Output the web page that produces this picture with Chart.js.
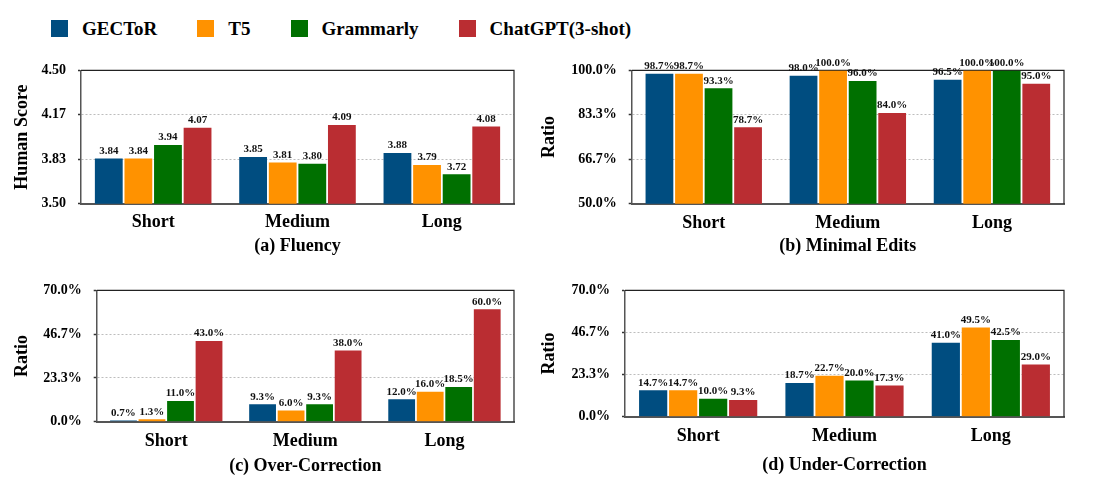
<!DOCTYPE html>
<html>
<head>
<meta charset="utf-8">
<script src="https://cdn.jsdelivr.net/npm/chart.js@4.4.1/dist/chart.umd.min.js"></script>
<style>
  body { margin: 0; background: #fff; width: 1101px; height: 487px; position: relative; overflow: hidden; font-family: "Liberation Serif", "Times New Roman", serif; }
  #legend { position: absolute; left: 51px; top: 19px; display: flex; align-items: center; font-weight: bold; font-size: 19px; line-height: 19px; color: #000; }
  #legend .item { display: flex; align-items: center; margin-right: 40px; }
  #legend .box { width: 17px; height: 17px; margin-right: 14px; }
  canvas { position: absolute; }
</style>
</head>
<body>
<div id="legend"></div>

<script>
// DATA
const categories = ['Short', 'Medium', 'Long'];
const systems = ['GECToR', 'T5', 'Grammarly', 'ChatGPT(3-shot)'];
const colors = ['#004d80', '#ff9200', '#007000', '#ba2d32'];

// rows follow `systems`, columns follow `categories`
const fluency = [
  [3.84, 3.85, 3.88],
  [3.84, 3.81, 3.79],
  [3.94, 3.80, 3.72],
  [4.07, 4.09, 4.08]
];
const minimalEdits = [
  [98.7, 98.0, 96.5],
  [98.7, 100.0, 100.0],
  [93.3, 96.0, 100.0],
  [78.7, 84.0, 95.0]
];
const overCorrection = [
  [0.7, 9.3, 12.0],
  [1.3, 6.0, 16.0],
  [11.0, 9.3, 18.5],
  [43.0, 38.0, 60.0]
];
const underCorrection = [
  [14.7, 18.7, 41.0],
  [14.7, 22.7, 49.5],
  [10.0, 20.0, 42.5],
  [9.3, 17.3, 29.0]
];

// tick values / labels
const fluencyTicks = [3.5, 3.8333, 4.1667, 4.5];
const fluencyTickLabels = ['3.50', '3.83', '4.17', '4.50'];
const editTicks = [50, 66.667, 83.333, 100];
const editTickLabels = ['50.0%', '66.7%', '83.3%', '100.0%'];
const correctionTicks = [0, 23.333, 46.667, 70];
const correctionTickLabels = ['0.0%', '23.3%', '46.7%', '70.0%'];

const FONT = '"Liberation Serif", "Times New Roman", serif';

// LEGEND
const legend = document.getElementById('legend');
systems.forEach((s, i) => {
  legend.innerHTML += `<div class="item"><div class="box" style="background:${colors[i]}"></div><span>${s}</span></div>`;
});

// PLUGINS
const valueLabels = {
  id: 'valueLabels',
  afterDatasetsDraw(chart, args, opts) {
    const ctx = chart.ctx;
    ctx.save();
    ctx.font = 'bold 11px ' + FONT;
    ctx.fillStyle = '#111';
    ctx.textAlign = 'center';
    ctx.textBaseline = 'bottom';
    chart.data.datasets.forEach((ds, i) => {
      chart.getDatasetMeta(i).data.forEach((bar, j) => {
        ctx.fillText(ds.data[j].toFixed(opts.digits) + opts.suffix, bar.x, bar.y - 2);
      });
    });
    ctx.restore();
  }
};

const frame = {
  id: 'frame',
  beforeDatasetsDraw(chart) {
    const { ctx, chartArea: a } = chart;
    ctx.save();
    ctx.strokeStyle = '#222';
    ctx.lineWidth = 1.2;
    ctx.beginPath();
    ctx.moveTo(a.left, a.top);
    ctx.lineTo(a.right, a.top);
    ctx.lineTo(a.right, a.bottom);
    ctx.stroke();
    ctx.restore();
  }
};

// PANELS
function makePanel(p) {
  const cv = document.createElement('canvas');
  cv.width = p.w; cv.height = p.h;
  cv.style.left = p.x + 'px'; cv.style.top = p.y + 'px';
  document.body.appendChild(cv);

  new Chart(cv, {
    type: 'bar',
    data: {
      labels: categories,
      datasets: systems.map((s, i) => ({
        label: s, data: p.values[i], backgroundColor: colors[i],
        categoryPercentage: 0.82, barPercentage: 0.94
      }))
    },
    options: {
      responsive: false, animation: false,
      layout: { padding: { top: p.padTop, right: p.padRight, left: 0, bottom: 0 } },
      plugins: {
        legend: { display: false }, tooltip: { enabled: false },
        valueLabels: { digits: p.digits, suffix: p.suffix }
      },
      scales: {
        x: {
          afterFit: s => { s.height = p.xHeight; },
          grid: { display: false, drawTicks: false },
          border: { color: '#555', width: 2 },
          ticks: { font: { family: FONT, size: 18, weight: 'bold' }, color: '#000', padding: p.catPad, maxRotation: 0 },
          title: { display: true, text: p.title, color: '#000', font: { family: FONT, size: 18, weight: 'bold' }, padding: { top: 0, bottom: p.titlePad } }
        },
        y: {
          min: p.ticks[0], max: p.ticks[p.ticks.length - 1],
          afterBuildTicks: s => { s.ticks = p.ticks.map(v => ({ value: v })); },
          afterFit: s => { s.width = p.yWidth; },
          ticks: { callback: (v, i) => p.tickLabels[i], font: { family: FONT, size: 14, weight: 'bold' }, color: '#000', padding: 12 },
          grid: {
            color: c => (c.index === 0 || c.index === p.ticks.length - 1) ? 'rgba(0,0,0,0)' : '#bdbdbd',
            lineWidth: 1, tickLength: 3, tickColor: '#333', tickWidth: 1.5
          },
          border: { color: '#555', width: 1.5, dash: [2, 2] },
          title: { display: true, text: p.yTitle, color: '#000', font: { family: FONT, size: 18, weight: 'bold' }, padding: { top: 12, bottom: 0 } }
        }
      }
    },
    plugins: [frame, valueLabels]
  });
}

makePanel({ x: 0, y: 50, w: 530, h: 212, padTop: 17.3, padRight: 16, yWidth: 81, xHeight: 58.3,
  catPad: 7.5, titlePad: 4.5, values: fluency, ticks: fluencyTicks, tickLabels: fluencyTickLabels,
  yTitle: 'Human Score', title: '(a) Fluency', digits: 2, suffix: '' });

makePanel({ x: 527, y: 50, w: 574, h: 212, padTop: 17.3, padRight: 37, yWidth: 104.7, xHeight: 58.3,
  catPad: 8.5, titlePad: 5.2, values: minimalEdits, ticks: editTicks, tickLabels: editTickLabels,
  yTitle: 'Ratio', title: '(b) Minimal Edits', digits: 1, suffix: '%' });

makePanel({ x: 0, y: 270, w: 530, h: 217, padTop: 15, padRight: 16, yWidth: 96.7, xHeight: 65.3,
  catPad: 8.5, titlePad: 10.2, values: overCorrection, ticks: correctionTicks, tickLabels: correctionTickLabels,
  yTitle: 'Ratio', title: '(c) Over-Correction', digits: 1, suffix: '%' });

makePanel({ x: 527, y: 270, w: 574, h: 217, padTop: 11, padRight: 37, yWidth: 98, xHeight: 70.3,
  catPad: 9, titlePad: 11.2, values: underCorrection, ticks: correctionTicks, tickLabels: correctionTickLabels,
  yTitle: 'Ratio', title: '(d) Under-Correction', digits: 1, suffix: '%' });
</script>
</body>
</html>
